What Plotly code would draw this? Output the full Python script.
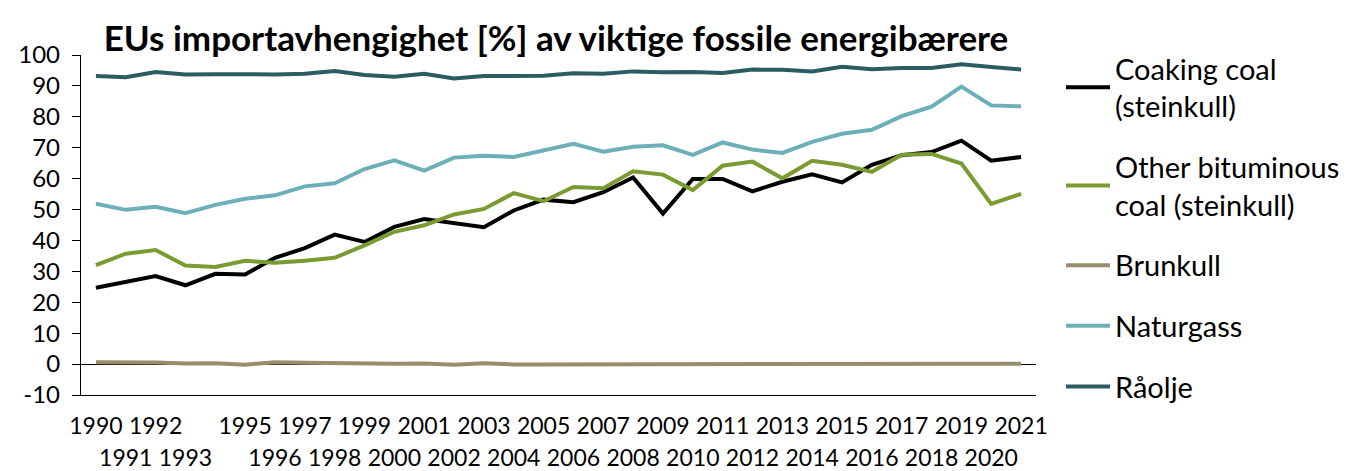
import plotly.graph_objects as go

years = list(range(1990, 2022))

coaking = [24.7, 26.6, 28.5, 25.5, 29.2, 29.0, 34.4, 37.5, 41.9, 39.5, 44.4, 46.9, 45.7, 44.3, 49.7,
           53.2, 52.4, 55.6, 60.4, 48.7, 59.9, 59.9, 55.9, 59.0, 61.4, 58.8, 64.5, 67.6, 68.6, 72.3, 65.8, 67.0]
other_bit = [32.0, 35.7, 36.9, 31.9, 31.4, 33.4, 32.8, 33.4, 34.4, 38.4, 42.8, 44.9, 48.4, 50.2, 55.3,
             52.7, 57.3, 56.9, 62.4, 61.3, 56.3, 64.2, 65.5, 60.1, 65.8, 64.5, 62.2, 67.7, 68.0, 64.9, 51.8, 55.1]
brunkull = [0.6, 0.7, 0.5, 0.2, 0.3, -0.2, 0.6, 0.4, 0.2, 0.0, 0.1, 0.2, -0.2, 0.3, -0.1,
            -0.1, -0.1, 0.1, 0.0, 0.0, 0.0, -0.1, 0.0, 0.0, 0.1, 0.0, 0.1, 0.1, 0.1, 0.1, 0.2, 0.1]
naturgass = [51.9, 49.9, 50.9, 48.8, 51.5, 53.5, 54.6, 57.5, 58.5, 63.1, 65.9, 62.6, 66.8, 67.4, 67.0,
             69.2, 71.3, 68.7, 70.3, 70.8, 67.7, 71.7, 69.4, 68.3, 71.9, 74.5, 75.8, 80.2, 83.3, 89.8, 83.7, 83.4]
raolje = [93.2, 92.8, 94.5, 93.7, 93.8, 93.7, 93.7, 93.9, 94.8, 93.5, 93.0, 93.9, 92.4, 93.2, 93.4,
          93.3, 94.1, 93.9, 94.7, 94.4, 94.5, 94.2, 95.3, 95.2, 94.7, 96.2, 95.4, 95.8, 95.8, 97.0, 96.1, 95.3]

series_names = ["Coaking coal<br>(steinkull)", "Other bituminous<br>coal (steinkull)",
                "Brunkull", "Naturgass", "Råolje"]
series_values = [coaking, other_bit, brunkull, naturgass, raolje]
series_colors = ["#000000", "#7A9A32", "#9A8D6E", "#6DAFB8", "#2A5C62"]

# x tick labels: staggered in two rows (1994 label not shown)
top_row_years = [1990, 1992, 1995, 1997, 1999, 2001, 2003, 2005, 2007, 2009, 2011, 2013, 2015, 2017, 2019, 2021]
bottom_row_years = [1991, 1993, 1996, 1998, 2000, 2002, 2004, 2006, 2008, 2010, 2012, 2014, 2016, 2018, 2020]
y_ticks = [-10, 0, 10, 20, 30, 40, 50, 60, 70, 80, 90, 100]

title_text = "EUs importavhengighet [%] av viktige fossile energibærere"

FONT = "Lato"
W, H = 1352, 471
L, R = 81, 1036
T, B = 55, 395

fig = go.Figure()
for i, (name, vals, col) in enumerate(zip(series_names, series_values, series_colors)):
    fig.add_trace(go.Scatter(
        x=years, y=vals, name=name, mode="lines",
        line=dict(color=col, width=4),
        legendgroup=f"g{i}",
    ))
# empty carrier trace so the second (staggered) row of year labels is drawn
fig.add_trace(go.Scatter(x=[], y=[], xaxis="x2", showlegend=False, hoverinfo="skip"))

fig.update_layout(
    width=W, height=H,
    margin=dict(l=L, r=W - R, t=T, b=H - B, pad=0, autoexpand=False),
    paper_bgcolor="white", plot_bgcolor="white",
    font=dict(family=FONT, color="#000000"),
    title=dict(text=f"<b>{title_text}</b>", font=dict(family=FONT, size=35, color="#000000"),
               x=556 / W, xref="container", xanchor="center",
               y=1 - 39 / H, yref="container", yanchor="middle"),
    showlegend=True,
    legend=dict(
        x=1061 / W, xref="container", xanchor="left",
        y=1 - 43 / H, yref="container", yanchor="top",
        font=dict(family=FONT, size=29, color="#000000"),
        traceorder="grouped", tracegroupgap=20,
        bgcolor="rgba(0,0,0,0)", borderwidth=0,
        itemwidth=44, maxheight=460,
    ),
    xaxis=dict(
        range=[1989.5, 2021.5], automargin=False,
        showgrid=False, zeroline=False,
        showline=True, linecolor="#000000", linewidth=1.3,
        tickmode="array", tickvals=top_row_years, ticktext=[str(y) for y in top_row_years],
        ticks="", tickfont=dict(family=FONT, size=23, color="#000000"),
        ticklabelstandoff=10,
    ),
    xaxis2=dict(
        range=[1989.5, 2021.5], overlaying="x", anchor="y", side="bottom", automargin=False,
        showgrid=False, zeroline=False, showline=False,
        tickmode="array", tickvals=bottom_row_years, ticktext=[str(y) for y in bottom_row_years],
        ticks="", tickfont=dict(family=FONT, size=23, color="#000000"),
        ticklabelstandoff=47,
    ),
    yaxis=dict(
        range=[-10, 100], automargin=False,
        showgrid=False,
        zeroline=True, zerolinecolor="#000000", zerolinewidth=1.3,
        showline=True, linecolor="#000000", linewidth=1.3,
        tickmode="array", tickvals=y_ticks, ticktext=[str(v) for v in y_ticks],
        ticks="outside", ticklen=8, tickcolor="#000000", tickwidth=1.3,
        tickfont=dict(family=FONT, size=24, color="#000000"),
        ticklabelstandoff=7,
    ),
)

fig.write_html("out.html", config={"displayModeBar": False},
               post_script="document.body.style.margin='0';document.body.style.overflow='hidden';")
